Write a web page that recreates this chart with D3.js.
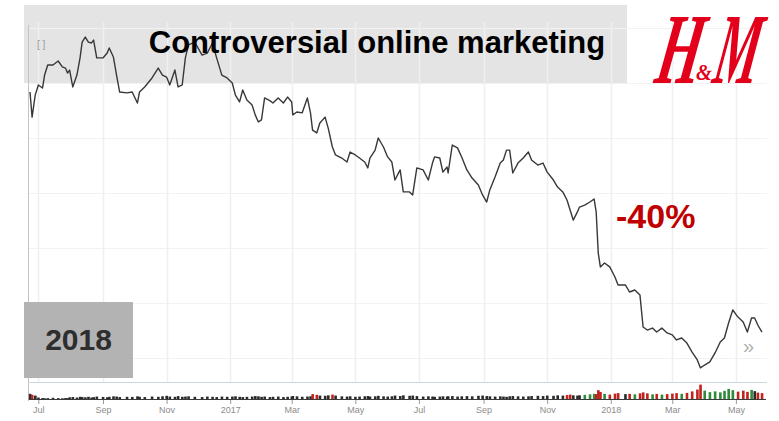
<!DOCTYPE html>
<html>
<head>
<meta charset="utf-8">
<script src="https://cdn.jsdelivr.net/npm/d3@7"></script>
<style>
  html, body { margin: 0; padding: 0; background: #fff; }
  svg { display: block; font-family: "Liberation Sans", Arial, sans-serif; }
</style>
</head>
<body>
<svg id="chart" width="779" height="421"></svg>
<script>
// H&M share price (SEK), mid-2016 to May 2018
const dates = [
  "2016-06-23","2016-06-25","2016-06-28","2016-07-01","2016-07-05","2016-07-07","2016-07-10","2016-07-15","2016-07-20","2016-07-24",
  "2016-07-27","2016-07-29","2016-07-31","2016-08-03","2016-08-07","2016-08-10","2016-08-12","2016-08-15","2016-08-18","2016-08-21",
  "2016-08-23","2016-08-26","2016-09-01","2016-09-05","2016-09-07","2016-09-11","2016-09-14","2016-09-17","2016-09-24","2016-09-29",
  "2016-10-04","2016-10-06","2016-10-11","2016-10-18","2016-10-24","2016-10-28","2016-11-01","2016-11-04","2016-11-09","2016-11-12",
  "2016-11-16","2016-11-19","2016-11-22","2016-11-28","2016-12-05","2016-12-10","2016-12-15","2016-12-19","2016-12-24","2016-12-29",
  "2017-01-03","2017-01-06","2017-01-10","2017-01-13","2017-01-17","2017-01-22","2017-01-25","2017-01-28","2017-01-31","2017-02-03",
  "2017-02-08","2017-02-11","2017-02-16","2017-02-21","2017-02-25","2017-03-01","2017-03-02","2017-03-06","2017-03-11","2017-03-16",
  "2017-03-19","2017-03-21","2017-03-25","2017-03-28","2017-04-02","2017-04-05","2017-04-09","2017-04-12","2017-04-18","2017-04-23",
  "2017-04-26","2017-05-01","2017-05-05","2017-05-10","2017-05-13","2017-05-15","2017-05-20","2017-05-23","2017-05-28","2017-06-01",
  "2017-06-05","2017-06-08","2017-06-13","2017-06-16","2017-06-22","2017-06-25","2017-06-29","2017-07-05","2017-07-10","2017-07-14",
  "2017-07-16","2017-07-21","2017-07-24","2017-07-28","2017-07-29","2017-08-02","2017-08-07","2017-08-11","2017-08-16","2017-08-21",
  "2017-08-27","2017-08-31","2017-09-04","2017-09-07","2017-09-12","2017-09-17","2017-09-20","2017-09-23","2017-09-26","2017-09-29",
  "2017-10-04","2017-10-09","2017-10-14","2017-10-17","2017-10-23","2017-10-28","2017-11-01","2017-11-07","2017-11-11","2017-11-16",
  "2017-11-20","2017-11-23","2017-11-26","2017-11-30","2017-12-02","2017-12-07","2017-12-12","2017-12-16","2017-12-18","2017-12-20",
  "2017-12-22","2017-12-26","2017-12-31","2018-01-05","2018-01-08","2018-01-15","2018-01-19","2018-01-24","2018-01-29","2018-02-01",
  "2018-02-05","2018-02-10","2018-02-14","2018-02-19","2018-02-24","2018-03-01","2018-03-05","2018-03-10","2018-03-15","2018-03-20",
  "2018-03-25","2018-03-28","2018-04-01","2018-04-06","2018-04-11","2018-04-16","2018-04-20","2018-04-24","2018-04-28","2018-05-03",
  "2018-05-08","2018-05-12","2018-05-16","2018-05-19","2018-05-22","2018-05-26"
];

const closes = [
  245.9, 234.5, 244.5, 249.1, 247.7, 253.6, 258.2, 258.2, 260.0, 257.3,
  256.8, 254.5, 255.9, 248.2, 253.6, 261.4, 268.6, 270.9, 268.6, 268.2,
  269.5, 261.4, 261.4, 263.6, 265.9, 261.8, 253.6, 245.9, 245.5, 245.9,
  240.9, 245.9, 248.2, 252.3, 256.8, 253.6, 252.7, 249.1, 255.9, 248.2,
  249.1, 261.4, 267.3, 268.6, 262.7, 263.6, 268.2, 261.4, 253.6, 252.3,
  250.0, 244.5, 241.4, 246.8, 242.3, 240.0, 235.5, 232.3, 233.2, 243.2,
  242.0, 240.9, 243.2, 240.9, 243.6, 241.4, 235.5, 236.8, 236.4, 243.2,
  236.4, 228.6, 227.3, 231.8, 234.5, 229.5, 220.9, 217.3, 215.9, 214.1,
  218.6, 217.3, 215.9, 214.1, 211.4, 215.9, 219.5, 225.0, 220.9, 216.4,
  214.1, 205.9, 210.5, 200.5, 200.5, 199.1, 211.4, 210.5, 205.9, 213.6,
  216.4, 215.9, 209.5, 211.8, 209.1, 221.8, 220.5, 216.4, 210.5, 206.8,
  203.6, 199.1, 195.9, 201.4, 207.3, 213.6, 215.0, 219.5, 219.5, 209.1,
  213.6, 215.9, 218.6, 215.0, 212.7, 213.6, 209.5, 205.9, 202.7, 200.5,
  196.8, 192.3, 187.7, 191.4, 193.6, 194.5, 195.9, 197.3, 191.4, 172.7,
  166.4, 168.2, 166.4, 161.8, 158.2, 158.2, 155.0, 155.9, 153.6, 139.1,
  137.7, 138.6, 136.8, 138.6, 136.4, 135.5, 133.2, 134.1, 131.8, 127.7,
  124.1, 120.5, 121.8, 123.2, 127.3, 132.3, 134.1, 140.9, 146.8, 143.6,
  141.4, 136.8, 143.2, 143.2, 140.0, 136.8
];

// traded volume, millions of shares
const volumes = [
  5.0, 4.2, 3.6,
  2.0, 1.6, 1.4, 1.5, 1.8, 1.5, 1.4, 1.6, 1.5, 2.2, 2.4, 2.0, 2.6,
  2.4, 2.2, 2.6, 2.0, 2.3, 2.8, 2.5, 2.2, 2.6, 3.0, 2.8, 2.4, 2.6, 2.5,
  3.0, 2.6, 2.4, 2.8, 2.6, 3.0, 3.4, 2.8, 2.6, 3.2, 2.6, 2.8, 3.0, 2.6, 2.4, 2.8, 2.6, 2.4, 2.8, 2.6,
  2.8, 3.0, 2.6, 2.4, 2.6, 2.8, 3.2, 3.0, 2.6, 2.8, 2.4, 2.6, 2.8, 2.4, 2.6, 2.8, 3.2, 3.0, 2.6, 2.8, 3.0,
  4.8, 4.2, 3.6, 3.4, 3.8, 4.4, 3.6,
  3.0, 2.8, 3.0, 2.6, 2.8, 3.0, 3.2, 2.8, 3.0, 3.4, 3.0, 2.8, 3.0, 3.6, 3.2, 3.8, 3.4, 3.6, 3.2, 2.8, 3.0, 2.8,
  2.6, 2.8, 3.0, 2.8, 3.0, 3.2, 2.8, 3.0, 3.2, 3.0, 3.4, 3.6, 3.2, 3.0, 2.8, 3.0, 2.8, 2.6, 3.0, 3.2, 3.0, 2.8, 3.0, 3.2, 3.4, 3.2, 3.6, 3.4, 3.8,
  3.6, 4.0, 4.4, 3.8, 3.6, 3.8, 4.2, 4.6, 5.0, 4.8,
  8.0, 6.5, 5.0, 4.4, 5.2, 5.6, 4.8, 5.0, 4.6, 5.4,
  6.2, 5.4, 4.6, 5.0, 4.4, 4.8, 5.2, 5.6, 5.0, 5.8, 7.0,
  8.5, 12.5, 7.6, 6.4, 7.0, 6.2, 7.4, 9.0, 8.0, 6.8, 7.6, 6.6, 8.2, 7.2, 6.0, 5.6
];

const tickDates = ["2016-07-01","2016-09-01","2016-11-01","2017-01-01","2017-03-01","2017-05-01",
                   "2017-07-01","2017-09-01","2017-11-01","2018-01-01","2018-03-01","2018-05-01"];
const tickLabels = ["Jul","Sep","Nov","2017","Mar","May","Jul","Sep","Nov","2018","Mar","May"];
const gridPrices = [125, 150, 175, 200, 225, 250, 275];

const titleText = "Controversial online marketing";
const yearText = "2018";
const changeText = "-40%";

const parse = d3.utcParse("%Y-%m-%d");
const series = dates.map((d, i) => ({ date: parse(d), close: closes[i], vol: volumes[i],
  change: i > 0 ? closes[i] - closes[i - 1] : 0 }));

const svg = d3.select("#chart");

const x = d3.scaleUtc().domain([parse("2016-06-23"), parse("2018-05-27")]).range([30, 763]);
const y = d3.scaleLinear().domain([115, 280]).range([380, 17]);
const volBase = 400;
const v = d3.scaleLinear().domain([0, 13]).range([volBase, 384]);

// title band
svg.append("rect").attr("x", 24).attr("y", 5).attr("width", 603).attr("height", 78).attr("fill", "#e4e4e4");

// grid
svg.append("g").selectAll("line").data(gridPrices).join("line")
  .attr("x1", 29).attr("x2", 767)
  .attr("y1", d => Math.round(y(d)) + 0.5).attr("y2", d => Math.round(y(d)) + 0.5)
  .attr("stroke", "#f2f2f2").attr("stroke-width", 1);
svg.append("g").selectAll("line").data(tickDates).join("line")
  .attr("x1", d => Math.round(x(parse(d))) + 0.5).attr("x2", d => Math.round(x(parse(d))) + 0.5)
  .attr("y1", 22).attr("y2", 382)
  .attr("stroke", "#efefef").attr("stroke-width", 1.5);

// left edge
svg.append("line").attr("x1", 28.5).attr("x2", 28.5).attr("y1", 25).attr("y2", volBase + 1)
  .attr("stroke", "#c4c4c4");

// volume panel
svg.append("line").attr("x1", 28).attr("x2", 767).attr("y1", 382.5).attr("y2", 382.5)
  .attr("stroke", "#cdd6db");
svg.append("g").selectAll("rect").data(series).join("rect")
  .attr("x", d => x(d.date) - 1.2)
  .attr("width", 2.6)
  .attr("y", d => v(d.vol))
  .attr("height", d => volBase - v(d.vol))
  .attr("fill", d => d.vol >= 4 && d.change < 0 ? "#c0231e" : d.vol >= 4 && d.change > 0 ? "#2f8a3a" : "#2a2a2a");
svg.append("line").attr("x1", 29).attr("x2", 766).attr("y1", volBase - 0.5).attr("y2", volBase - 0.5)
  .attr("stroke", "#3a3a3a").attr("stroke-width", 1);

// date axis
const axis = d3.axisBottom(x)
  .tickValues(tickDates.map(parse))
  .tickFormat((d, i) => tickLabels[i])
  .tickSize(4).tickPadding(3);
const ax = svg.append("g").attr("transform", `translate(0,${volBase})`).call(axis);
ax.select(".domain").remove();
ax.selectAll(".tick line").attr("stroke", "#9a9a9a");
ax.selectAll(".tick text").attr("fill", "#8c8c8c").attr("font-size", 9)
  .attr("font-family", "'Liberation Sans', Arial, sans-serif");

// price line
const line = d3.line().x(d => x(d.date)).y(d => y(d.close));
svg.append("path").datum(series).attr("d", line)
  .attr("fill", "none").attr("stroke", "#383838").attr("stroke-width", 1.4)
  .attr("stroke-linejoin", "round");

// small chart controls
svg.append("text").attr("x", 37).attr("y", 48).attr("font-size", 10).attr("fill", "#9a9a9a").text("[ ]");
svg.append("text").attr("x", 743).attr("y", 353).attr("font-size", 20).attr("fill", "#b0b0b0").text("»");

// title
svg.append("text").attr("x", 377).attr("y", 53).attr("text-anchor", "middle")
  .attr("font-size", 31).attr("font-weight", "bold").attr("fill", "#000").text(titleText);

// year badge
svg.append("rect").attr("x", 24).attr("y", 302).attr("width", 109).attr("height", 76).attr("fill", "#b3b3b3");
svg.append("text").attr("x", 78.5).attr("y", 350).attr("text-anchor", "middle")
  .attr("font-size", 30).attr("font-weight", "bold").attr("fill", "#2e2e2e").text(yearText);

// change annotation
svg.append("text").attr("x", 616).attr("y", 228)
  .attr("font-size", 34).attr("font-weight", "bold").attr("fill", "#c00000").text(changeText);

// brand mark
const brand = svg.append("g").attr("fill", "#e3001b")
  .attr("font-family", "'Liberation Serif', 'DejaVu Serif', serif")
  .attr("font-style", "italic").attr("font-weight", "bold");
brand.append("text").attr("transform", "translate(653,83) skewX(-10) scale(0.6,1.05)")
  .attr("font-size", 96).text("H");
brand.append("text").attr("transform", "translate(696,80) scale(0.85,1)")
  .attr("font-size", 24).text("&");
brand.append("text").attr("transform", "translate(711,83) skewX(-10) scale(0.52,1.05)")
  .attr("font-size", 96).text("M");
</script>
</body>
</html>
